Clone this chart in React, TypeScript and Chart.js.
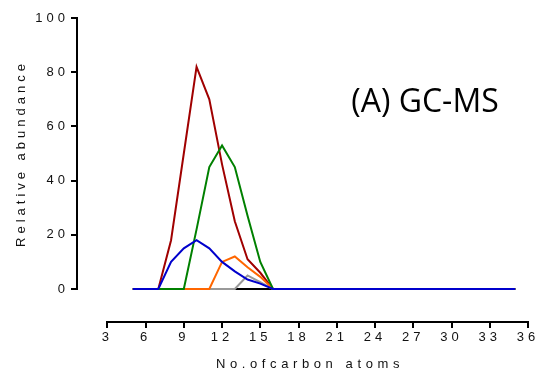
import React, { useEffect, useRef } from 'react';
import { Chart, registerables } from 'chart.js';

Chart.register(...registerables);

// ---- data ----
const carbons = [5, 6, 7, 8, 9, 10, 11, 12, 13, 14, 15, 16, 17, 18, 19, 20, 21, 22, 23, 24, 25, 26, 27, 28, 29, 30, 31, 32, 33, 34, 35];
const blueSeries = [0, 0, 0, 10, 15, 18, 15, 10, 6.5, 3.5, 2, 0, 0, 0, 0, 0, 0, 0, 0, 0, 0, 0, 0, 0, 0, 0, 0, 0, 0, 0, 0];
const greenSeries = [0, 0, 0, 0, 0, 22, 45, 53, 45, 27, 10, 0, 0, 0, 0, 0, 0, 0, 0, 0, 0, 0, 0, 0, 0, 0, 0, 0, 0, 0, 0];
const orangeSeries = [0, 0, 0, 0, 0, 0, 0, 10, 12, 8, 4.5, 0, 0, 0, 0, 0, 0, 0, 0, 0, 0, 0, 0, 0, 0, 0, 0, 0, 0, 0, 0];
const graySeries = [0, 0, 0, 0, 0, 0, 0, 0, 0, 5, 2.5, 0, 0, 0, 0, 0, 0, 0, 0, 0, 0, 0, 0, 0, 0, 0, 0, 0, 0, 0, 0];
const blackSeries = [0, 0, 0, 0, 0, 0, 0, 0, 0, 0, 0, 0, 0, 0, 0, 0, 0, 0, 0, 0, 0, 0, 0, 0, 0, 0, 0, 0, 0, 0, 0];
const redSeries = [0, 0, 0, 18, 50, 82, 70, 46, 25, 11, 6, 0, 0, 0, 0, 0, 0, 0, 0, 0, 0, 0, 0, 0, 0, 0, 0, 0, 0, 0, 0];

const xTicks = [3, 6, 9, 12, 15, 18, 21, 24, 27, 30, 33, 36];
const yTicks = [0, 20, 40, 60, 80, 100];

const xTitle = 'No.ofcarbon atoms';
const yTitle = 'Relative abundance';
const panelLabel = '(A) GC-MS';

const TICK_FONT = { family: '"Liberation Sans", Arial, sans-serif', size: 13 };

export default function App() {
  const ref = useRef<HTMLCanvasElement>(null);

  useEffect(() => {
    if (!ref.current) return;
    const pts = (v: number[]) => carbons.map((c, i) => ({ x: c, y: v[i] }));
    const ds = (v: number[], color: string) => ({
      data: pts(v),
      borderColor: color,
      backgroundColor: color,
      borderWidth: 2,
      pointRadius: 0,
      tension: 0,
      fill: false,
    });

    const prismPlugin = {
      id: 'prismAxes',
      beforeDraw(chart: any) {
        chart.ctx.letterSpacing = '4px';
      },
      afterDraw(chart: any) {
        const { ctx, chartArea } = chart;
        const x = chart.scales.x;
        const y = chart.scales.y;
        ctx.save();
        ctx.strokeStyle = '#000';
        ctx.lineWidth = 2;
        // y axis line (0..100)
        ctx.beginPath();
        ctx.moveTo(chartArea.left - 1, y.getPixelForValue(yTicks[yTicks.length - 1]) - 1);
        ctx.lineTo(chartArea.left - 1, y.getPixelForValue(yTicks[0]) + 1);
        ctx.stroke();
        // x axis line (3..36)
        ctx.beginPath();
        ctx.moveTo(x.getPixelForValue(xTicks[0]) - 1, chartArea.bottom + 1);
        ctx.lineTo(x.getPixelForValue(xTicks[xTicks.length - 1]) + 1, chartArea.bottom + 1);
        ctx.stroke();

        // axis titles
        ctx.fillStyle = '#111';
        ctx.font = '13px "Liberation Sans", Arial, sans-serif';
        ctx.textAlign = 'center';
        ctx.textBaseline = 'middle';
        ctx.letterSpacing = '4.6px';
        ctx.fillText(xTitle, 310, 364);
        ctx.letterSpacing = '4px';
        const yMid = (y.getPixelForValue(yTicks[0]) + y.getPixelForValue(yTicks[yTicks.length - 1])) / 2;
        ctx.save();
        ctx.translate(21, yMid);
        ctx.rotate(-Math.PI / 2);
        ctx.fillText(yTitle, 0, 0);
        ctx.restore();

        // panel label
        ctx.letterSpacing = '0px';
        ctx.fillStyle = '#000';
        ctx.font = '32px "Open Sans", sans-serif';
        ctx.textAlign = 'center';
        ctx.fillText(panelLabel, 425, 103);
        ctx.restore();
      },
    };

    const chart = new Chart(ref.current, {
      type: 'line',
      data: {
        datasets: [
          ds(blueSeries, '#0000CC'),
          ds(greenSeries, '#008000'),
          ds(orangeSeries, '#FF6600'),
          ds(graySeries, '#999999'),
          ds(blackSeries, '#000000'),
          ds(redSeries, '#A00000'),
        ],
      },
      options: {
        animation: false,
        responsive: true,
        maintainAspectRatio: false,
        layout: { padding: { top: 18, right: 10, left: 0, bottom: 0 } },
        plugins: { legend: { display: false }, tooltip: { enabled: false } },
        scales: {
          x: {
            type: 'linear',
            min: 0.7,
            max: 36,
            afterBuildTicks: (axis: any) => {
              axis.ticks = xTicks.map((v) => ({ value: v }));
            },
            afterFit: (axis: any) => {
              axis.height = 53;
            },
            border: { display: false },
            grid: {
              display: true,
              drawOnChartArea: false,
              drawTicks: true,
              tickLength: 7,
              lineWidth: 2,
              color: '#000',
            },
            ticks: {
              autoSkip: false,
              maxRotation: 0,
              padding: 2,
              color: '#111',
              font: TICK_FONT,
              callback: (v: any) => String(v),
            },
          },
          y: {
            type: 'linear',
            min: -11.8,
            max: 100,
            afterBuildTicks: (axis: any) => {
              axis.ticks = yTicks.map((v) => ({ value: v }));
            },
            afterFit: (axis: any) => {
              axis.width = 78;
            },
            border: { display: false },
            grid: {
              display: true,
              drawOnChartArea: false,
              drawTicks: true,
              tickLength: 7,
              lineWidth: 2,
              color: '#000',
            },
            ticks: {
              autoSkip: false,
              padding: 2,
              color: '#111',
              font: TICK_FONT,
              callback: (v: any) => String(v),
            },
          },
        },
      },
      plugins: [prismPlugin],
    } as any);

    return () => chart.destroy();
  }, []);

  return (
    <div style={{ position: 'fixed', left: 0, top: 0, width: 538, height: 374, background: '#fff' }}>
      <canvas ref={ref} />
    </div>
  );
}
